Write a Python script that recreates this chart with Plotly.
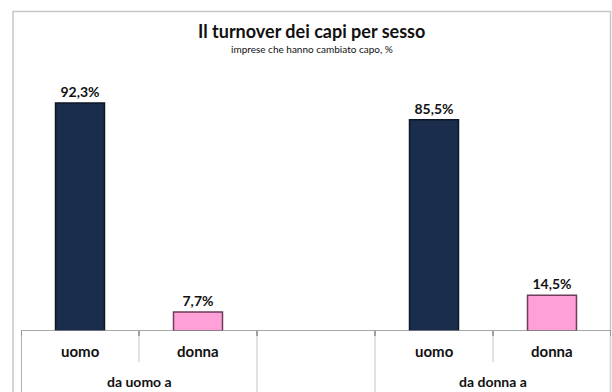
import plotly.graph_objects as go

# Category slots: the middle slot is an empty spacer between the two groups
slots = ["uomo", "donna", "", "uomo", "donna"]
bar_slots = [0, 1, 3, 4]
bar_values = [92.3, 7.7, 85.5, 14.5]
bar_labels = ["92,3%", "7,7%", "85,5%", "14,5%"]
groups = ["da uomo a", "da donna a"]
group_centers = [0.5, 3.5]

title = "Il turnover dei capi per sesso"
subtitle = "imprese che hanno cambiato capo, %"

NAVY = "#1b2d4c"
NAVY_EDGE = "#0c1626"
PINK = "#ffa0d8"
PINK_EDGE = "#6e3b5a"
FONT = "Lato"

W, H = 612, 392
ML, MR, MT, MB = 21, 1, 84, 61
PW, PH = W - ML - MR, H - MT - MB


def px_to_paper_x(px):
    return (px - ML) / PW


def px_to_paper_y(py):
    return (H - MB - py) / PH


fill = [NAVY if slots[i] == "uomo" else PINK for i in bar_slots]
edge = [NAVY_EDGE if slots[i] == "uomo" else PINK_EDGE for i in bar_slots]

fig = go.Figure()
fig.add_trace(go.Bar(
    x=bar_slots,
    y=bar_values,
    width=0.415,
    marker=dict(color=fill, line=dict(color=edge, width=1.5)),
    text=bar_labels,
    textposition="outside",
    textfont=dict(family=FONT, size=14, color="#111111", weight="bold"),
    cliponaxis=False,
    hoverinfo="skip",
))

shapes = []
# outer chart frame; its bottom edge runs off the page
fx0, fx1 = px_to_paper_x(13), px_to_paper_x(610.5)
fy_top, fy_bot = px_to_paper_y(11.5), px_to_paper_y(H + 4)
shapes.append(dict(type="rect", xref="paper", yref="paper",
                   x0=fx0, y0=fy_bot, x1=fx1, y1=fy_top,
                   line=dict(color="#c6c6c6", width=1.5), fillcolor="rgba(0,0,0,0)"))
# category dividers below the axis
bottom = px_to_paper_y(H)
short = px_to_paper_y(362)
tick_end = px_to_paper_y(336)
divs = [(-0.5, bottom, "#9a9a9a"), (0.5, short, "#d9d9d9"), (1.5, bottom, "#d9d9d9"),
        (2.5, bottom, "#d9d9d9"), (3.5, short, "#d9d9d9"), (4.5, bottom, "#d9d9d9")]
for xv, yb, col in divs:
    shapes.append(dict(type="line", xref="x", yref="paper", x0=xv, x1=xv,
                       y0=0, y1=yb, line=dict(color=col, width=1.5)))
    shapes.append(dict(type="line", xref="x", yref="paper", x0=xv, x1=xv,
                       y0=0, y1=tick_end, line=dict(color="#8a8a8a", width=1.5)))
# axis baseline
shapes.append(dict(type="line", xref="paper", yref="y", x0=0, x1=1, y0=0, y1=0,
                   line=dict(color="#8a8a8a", width=1.5)))

annotations = [
    dict(text=f"<b>{title}</b>", xref="paper", yref="paper",
         x=px_to_paper_x(311.5), y=px_to_paper_y(31), xanchor="center", yanchor="middle",
         showarrow=False, font=dict(family=FONT, size=18, color="#111111")),
    dict(text=subtitle, xref="paper", yref="paper",
         x=px_to_paper_x(312), y=px_to_paper_y(49), xanchor="center", yanchor="middle",
         showarrow=False, font=dict(family=FONT, size=10, color="#111111")),
]
for i, name in enumerate(slots):
    if name:
        annotations.append(dict(text=f"<b>{name}</b>", xref="x", yref="paper",
                                x=i, y=px_to_paper_y(351), xanchor="center", yanchor="middle",
                                showarrow=False, font=dict(family=FONT, size=15, color="#111111")))
for g, c in zip(groups, group_centers):
    annotations.append(dict(text=f"<b>{g}</b>", xref="x", yref="paper",
                            x=c, y=px_to_paper_y(381), xanchor="center", yanchor="middle",
                            showarrow=False, font=dict(family=FONT, size=14, color="#111111")))

fig.update_layout(
    width=W, height=H,
    margin=dict(l=ML, r=MR, t=MT, b=MB, pad=0),
    paper_bgcolor="white", plot_bgcolor="white",
    showlegend=False,
    xaxis=dict(range=[-0.5, 4.5], showticklabels=False, showgrid=False, zeroline=False,
               showline=False, ticks="", fixedrange=True),
    yaxis=dict(range=[0, 100], visible=False, fixedrange=True),
    shapes=shapes,
    annotations=annotations,
)

fig.write_html("out.html", config={"displayModeBar": False})
